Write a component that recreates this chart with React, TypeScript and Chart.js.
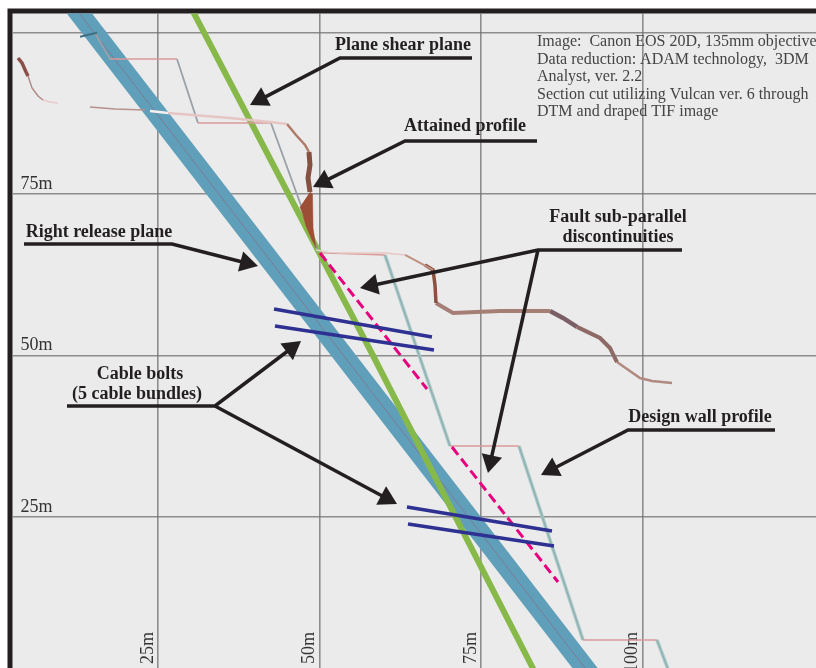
import React, { useEffect, useRef } from "react";
import { Chart, registerables } from "chart.js";

Chart.register(...registerables);

// all values are metres along the section
const xTicks = [25, 50, 75, 100];
const yTicks = [25, 50, 75, 100];

const releaseX = [11.22, 93.73];
const releaseY = [105.03, -1.78];
const shearX = [29.49, 58.28, 84.75];
const shearY = [105.03, 50, -1.78];

const benches: number[][][] = [
  [[17.57, 27.94], [95.9, 95.9]],
  [[31.19, 42.49], [85.99, 85.99]],
  [[50.08, 60.14], [65.87, 65.56]],
  [[70.2, 80.88], [35.99, 35.99]],
  [[90.79, 102.24], [5.96, 5.96]],
];
const upperFaces: number[][][] = [
  [[15.25, 17.57], [99.92, 95.9]],
  [[27.94, 31.19], [95.9, 85.99]],
  [[42.49, 49.77], [85.99, 66.02]],
];
const lowerFaces: number[][][] = [
  [[60.14, 70.2], [65.56, 35.99]],
  [[80.88, 90.79], [35.99, 5.96]],
  [[102.24, 105.18], [5.96, -1.78]],
];

// attained profile pieces: x, y, colour, width
const profile: [number[], number[], string, number][] = [
  [[3.33, 3.95, 4.57, 4.88], [96.05, 95.28, 93.89, 93.27], "#8a5048", 3.5],
  [[4.88, 5.5, 6.42, 7.2], [93.27, 91.41, 90.17, 89.55], "#b08a88", 1.5],
  [[7.2, 8.28, 9.52], [89.55, 89.24, 89.09], "#e9c9c9", 1.5],
  [[14.47, 18.34, 22.99], [88.47, 88.16, 88.0], "#b8908c", 1.5],
  [[23.76, 26.55], [87.85, 87.54], "#f6f0ee", 2.5],
  [[26.55, 36.15, 42.34, 44.97], [87.54, 86.77, 86.15, 85.84], "#e6c6c4", 2.5],
  [[44.97, 46.36, 47.76, 48.37], [85.84, 84.13, 82.59, 81.5], "#b07a6a", 2.5],
  [[48.37, 48.53, 48.22, 48.53], [81.5, 79.49, 77.48, 75.31], "#84503f", 5],
  [[49.46, 51.32], [66.33, 66.02], "#e0d8c8", 1.5],
  [[52.71, 60.14, 63.24], [65.87, 65.87, 65.56], "#e8c8c4", 1.5],
  [[63.24, 65.56, 67.57], [65.56, 64.33, 63.25], "#c09080", 2],
  [[66.33, 67.57, 67.88, 68.03], [64.02, 63.25, 60.91, 58.13], "#8c5040", 3.5],
  [[68.03, 68.81, 70.67, 77.94, 85.68], [58.13, 57.66, 56.59, 56.9, 56.9], "#a57f76", 4],
  [[85.68, 87.69, 89.86], [56.9, 55.82, 54.43], "#7a5f66", 4.5],
  [[89.86, 93.42, 94.97, 96.05], [54.43, 52.71, 51.16, 48.99], "#8e6a66", 4],
  [[96.05, 99.61, 101.47, 104.57], [48.99, 46.52, 46.05, 45.74], "#b08a80", 2.5],
  [[12.93, 15.56], [99.33, 99.95], "#3f6f80", 2],
];
const wedgeX = [48.53, 48.92, 49.0, 49.46, 48.84, 47.91, 47.45, 46.98];
const wedgeY = [75.31, 75.0, 69.74, 66.66, 67.88, 70.05, 71.75, 72.99];

const discontinuities: number[][][] = [
  [[50.08, 66.64], [65.87, 44.81]],
  [[70.51, 86.92], [35.84, 14.94]],
];
const cableBolts: number[][][] = [
  [[42.96, 67.41], [57.2, 52.86]],
  [[43.11, 67.72], [54.57, 50.85]],
  [[63.54, 85.99], [26.55, 22.83]],
  [[63.7, 86.3], [23.92, 20.51]],
];
const arrows: number[][][] = [
  [[73.61, 53.17, 39.24], [96.05, 96.05, 88.79]],
  [[83.67, 63.24, 48.99], [83.2, 83.2, 76.08]],
  [[4.26, 27.17, 40.48], [67.26, 67.26, 63.85]],
  [[106.11, 83.82, 56.27], [66.33, 66.33, 60.45]],
  [[83.82, 76.08], [66.33, 31.81]],
  [[10.91, 33.82, 47.14], [42.18, 42.18, 52.24]],
  [[33.82, 62.0], [42.18, 27.01]],
  [[120.51, 97.76, 84.29], [38.47, 38.47, 31.5]],
];

const boldLabels: [string, number, number][] = [
  ["Plane shear plane", 403, 45],
  ["Attained profile", 465, 126],
  ["Right release plane", 99, 232],
  ["Fault sub-parallel", 618, 217],
  ["discontinuities", 618, 237],
  ["Cable bolts", 140, 374],
  ["(5 cable bundles)", 137, 394],
  ["Design wall profile", 700, 417],
];
const infoLines: [string, number][] = [
  ["Image:  Canon EOS 20D, 135mm objective", 42],
  ["Data reduction: ADAM technology,  3DM", 59.5],
  ["Analyst, ver. 2.2", 77],
  ["Section cut utilizing Vulcan ver. 6 through", 94.5],
  ["DTM and draped TIF image", 112],
];

const pts = (xs: number[], ys: number[]) => xs.map((x, i) => ({ x, y: ys[i] }));
const path = (xs: number[], ys: number[], color: string, width: number, extra: object = {}) => ({
  data: pts(xs, ys),
  showLine: true,
  borderColor: color,
  borderWidth: width,
  pointRadius: 0,
  clip: 0,
  ...extra,
});

const HEAD = 12;
const M = 6.46; // px per metre, used only for head set-back
const arrowSet = ([xs, ys]: number[][]) => {
  const n = xs.length - 1;
  const dx = xs[n] - xs[n - 1];
  const dy = ys[n] - ys[n - 1];
  const len = Math.hypot(dx, dy);
  const back = HEAD / M / len;
  const hx = [...xs.slice(0, n), xs[n] - dx * back];
  const hy = [...ys.slice(0, n), ys[n] - dy * back];
  const rot = (Math.atan2(dx, dy) * 180) / Math.PI;
  return path(hx, hy, "#231f20", 3.5, {
    pointRadius: (c: any) => (c.dataIndex === n ? HEAD : 0),
    pointRotation: rot,
    pointStyle: "triangle",
    pointBackgroundColor: "#231f20",
    pointBorderWidth: 0,
  });
};

const zeroBox = (s: any) => {
  s.paddingLeft = s.paddingRight = s.paddingTop = s.paddingBottom = 0;
  if (s.isHorizontal()) s.height = 0;
  else s.width = 0;
};

const panelPlugin = {
  id: "panel",
  beforeDraw(chart: any) {
    const { ctx, chartArea: a } = chart;
    ctx.save();
    ctx.fillStyle = "#ffffff";
    ctx.fillRect(0, 0, chart.width, chart.height);
    ctx.fillStyle = "#231f20";
    ctx.fillRect(a.left - 5, a.top - 5, a.right - a.left + 5, a.bottom - a.top + 5);
    ctx.fillStyle = "#ebebeb";
    ctx.fillRect(a.left, a.top, a.right - a.left, a.bottom - a.top);
    ctx.restore();
  },
  afterDraw(chart: any) {
    const { ctx } = chart;
    ctx.save();
    ctx.textBaseline = "middle";
    ctx.textAlign = "center";
    ctx.fillStyle = "#231f20";
    ctx.font = "bold 18px 'Liberation Serif'";
    boldLabels.forEach(([t, x, y]) => ctx.fillText(t, x, y));
    ctx.textAlign = "left";
    ctx.fillStyle = "#444444";
    ctx.font = "16px 'Liberation Serif'";
    infoLines.forEach(([t, y]) => ctx.fillText(t, 537, y));
    ctx.restore();
  },
};

export default function App() {
  const ref = useRef<HTMLCanvasElement>(null);
  useEffect(() => {
    const datasets: any[] = [
      ...arrows.map(arrowSet),
      ...cableBolts.map(([x, y]) => path(x, y, "#2e3192", 3.5)),
      ...discontinuities.map(([x, y]) => path(x, y, "#e6007e", 3, { borderDash: [10, 5] })),
      ...profile.map(([x, y, c, w]) => path(x, y, c, w)),
      path(wedgeX, wedgeY, "#9c4f35", 0.5, { fill: "shape", backgroundColor: "#9c4f35" }),
      ...benches.map(([x, y]) => path(x, y, "#d99a9a", 1.3)),
      ...upperFaces.map(([x, y]) => path(x, y, "#9aa0a8", 1.8)),
      ...lowerFaces.map(([x, y]) => path(x, y, "#8fa8ac", 1)),
      ...lowerFaces.map(([x, y]) => path(x, y, "#a4c8c5", 3.5)),
      path(shearX, shearY, "#87b84a", 6),
      path(releaseX, releaseY, "#7d7a96", 1),
      path(releaseX, releaseY, "#5f9fba", 20),
    ];
    const chart = new Chart(ref.current as HTMLCanvasElement, {
      type: "scatter",
      data: { datasets },
      plugins: [panelPlugin],
      options: {
        animation: false,
        responsive: false,
        devicePixelRatio: 1,
        events: [],
        layout: { autoPadding: false, padding: { left: 12.5, top: 13.5, right: 0, bottom: 0 } },
        plugins: { legend: { display: false }, tooltip: { enabled: false } },
        scales: {
          x: {
            type: "linear",
            position: "bottom",
            min: 2.477,
            max: 126.86,
            afterBuildTicks: (s: any) => { s.ticks = xTicks.map((value) => ({ value })); },
            afterFit: zeroBox,
            border: { display: false },
            grid: { color: "rgba(110,110,110,0.75)", lineWidth: 1.6, drawTicks: false, tickLength: 0 },
            ticks: {
              autoSkip: false,
              mirror: true,
              minRotation: 90,
              maxRotation: 90,
              padding: 36,
              labelOffset: 11.5,
              color: "#333333",
              font: { family: "'Liberation Serif'", size: 18 },
              callback: (v: any) => `${v}m`,
            },
          },
          y: {
            type: "linear",
            position: "left",
            min: 1.625,
            max: 102.94,
            afterBuildTicks: (s: any) => { s.ticks = yTicks.map((value) => ({ value })); },
            afterFit: zeroBox,
            border: { display: false },
            grid: { color: "rgba(110,110,110,0.75)", lineWidth: 1.6, drawTicks: false, tickLength: 0 },
            ticks: {
              mirror: true,
              padding: 8,
              labelOffset: -10,
              color: "#333333",
              font: { family: "'Liberation Serif'", size: 18 },
              callback: (v: any) => (v === 100 ? "" : `${v}m`),
            },
          },
        },
      } as any,
    });
    return () => chart.destroy();
  }, []);
  return (
    <div style={{ position: "absolute", left: 0, top: 0, width: 816, height: 668, overflow: "hidden" }}>
      <canvas ref={ref} width={816} height={668} style={{ display: "block", filter: "blur(0.5px)" }} />
    </div>
  );
}
